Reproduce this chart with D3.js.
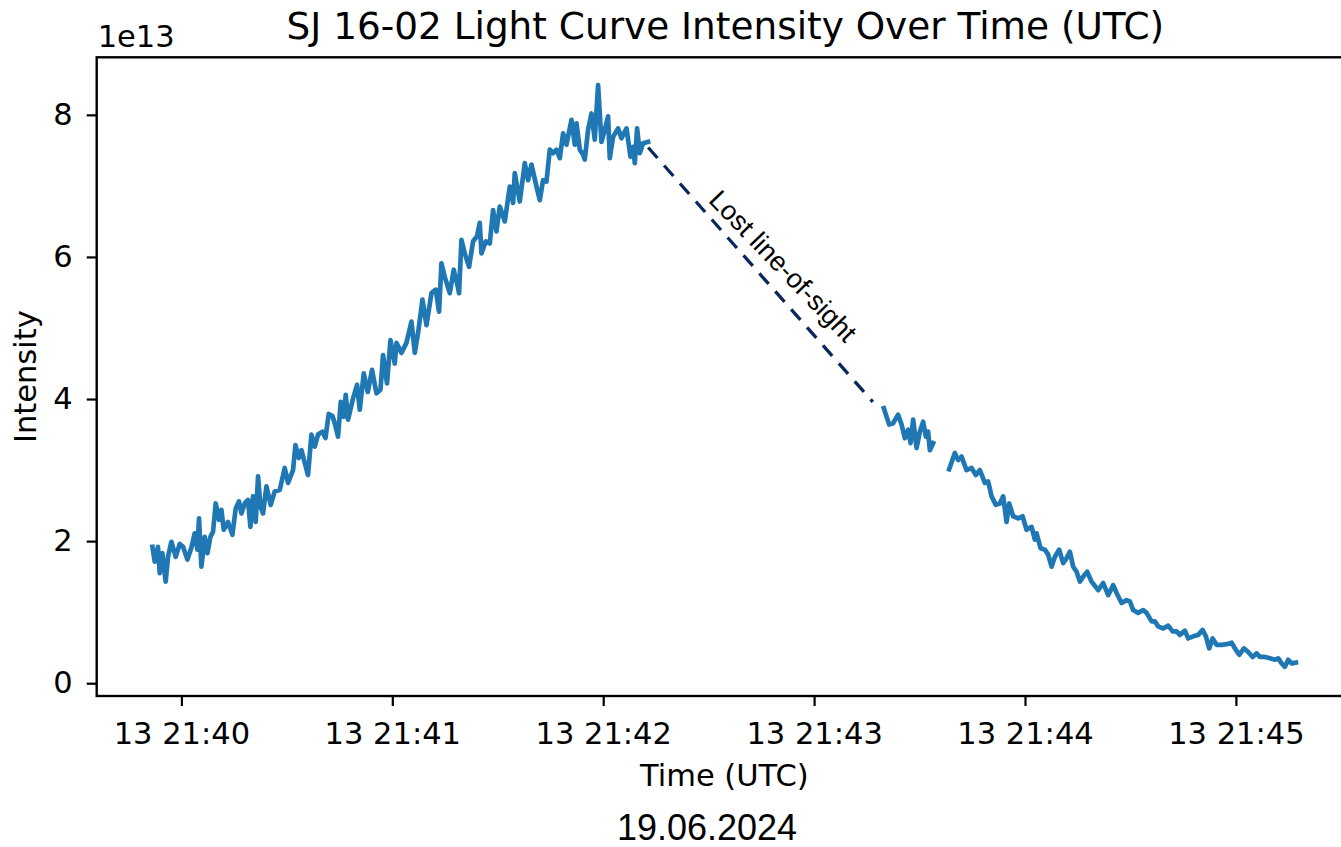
<!DOCTYPE html>
<html>
<head>
<meta charset="utf-8">
<script src="https://cdn.jsdelivr.net/npm/d3@7"></script>
<style>
  body { margin: 0; background: #fff; }
  svg { display: block; }
  .axis text { font-family: "DejaVu Sans", sans-serif; font-size: 30.5px; fill: #000; }
  .axis line { stroke: #000; stroke-width: 2.2px; }
</style>
</head>
<body>
<div id="chart"></div>
<script>
// seconds after 13 21:40:00 UTC, intensity in units of 1e13
var riseSegment = [
  [-8.25, 1.92], [-7.60, 1.71], [-6.66, 1.92], [-6.17, 1.55], [-5.41, 1.83], [-4.47, 1.43],
  [-3.81, 1.78], [-2.85, 1.99], [-1.62, 1.78], [-0.48, 1.96], [0.46, 1.92], [1.71, 1.74],
  [2.85, 1.91], [3.78, 2.11], [4.55, 1.88], [5.01, 2.32], [5.69, 1.64], [6.63, 2.06],
  [7.40, 1.83], [8.25, 2.06], [8.99, 2.13], [9.76, 2.53], [10.70, 2.30], [11.38, 2.44],
  [12.04, 2.16], [13.26, 2.27], [14.51, 2.09], [15.45, 2.46], [16.39, 2.56], [17.07, 2.39],
  [18.01, 2.53], [18.95, 2.58], [19.63, 2.20], [20.37, 2.63], [21.14, 2.27], [21.80, 2.91],
  [22.48, 2.49], [23.22, 2.39], [24.19, 2.77], [25.41, 2.51], [26.55, 2.70], [27.97, 2.72],
  [29.39, 3.03], [30.33, 2.82], [31.76, 3.00], [32.44, 3.35], [33.38, 3.17], [34.15, 3.28],
  [34.89, 3.14], [36.02, 2.93], [36.99, 3.50], [37.93, 3.33], [38.87, 3.50], [40.12, 3.54],
  [40.98, 3.45], [41.91, 3.79], [42.97, 3.76], [43.62, 3.66], [44.56, 3.47], [45.33, 3.96],
  [46.18, 3.75], [46.75, 4.06], [47.41, 3.71], [48.83, 4.01], [49.97, 4.20], [50.74, 3.85],
  [51.87, 4.36], [53.01, 4.10], [54.24, 4.41], [55.49, 4.08], [56.63, 4.13], [57.37, 4.62],
  [58.50, 4.22], [59.47, 4.83], [60.70, 4.50], [61.18, 4.79], [62.60, 4.65], [64.02, 4.79],
  [65.45, 5.09], [66.39, 4.65], [67.33, 4.93], [68.58, 5.40], [69.72, 5.04], [71.14, 5.49],
  [72.36, 5.54], [73.30, 5.23], [73.98, 5.91], [74.92, 5.72], [76.35, 5.49], [77.48, 5.82],
  [78.42, 5.63], [78.99, 5.49], [79.67, 6.24], [80.61, 6.05], [81.84, 5.86], [82.98, 6.22],
  [84.11, 6.29], [84.88, 6.48], [85.37, 6.05], [86.59, 6.22], [87.73, 6.19], [88.67, 6.66],
  [89.63, 6.36], [90.57, 6.71], [92.00, 6.50], [93.42, 6.99], [94.36, 6.76], [94.84, 7.18],
  [96.26, 6.78], [97.69, 7.32], [98.63, 7.08], [99.59, 7.30], [101.02, 6.99], [101.96, 6.80],
  [102.89, 7.08], [103.86, 7.06], [104.80, 7.51], [105.74, 7.46], [106.71, 7.51], [107.65, 7.39],
  [108.59, 7.74], [109.55, 7.58], [110.98, 7.93], [111.91, 7.58], [112.40, 7.88], [113.34, 7.51],
  [114.28, 7.44], [114.76, 7.37], [115.70, 7.79], [116.67, 8.02], [117.60, 7.65], [118.54, 8.42],
  [119.51, 7.62], [120.45, 7.79], [121.39, 7.98], [121.87, 7.39], [122.81, 7.69], [124.23, 7.81],
  [125.20, 7.67], [126.63, 7.81], [127.76, 7.41], [128.50, 7.55], [128.99, 7.32], [129.64, 7.81],
  [130.41, 7.46], [131.35, 7.60], [132.77, 7.62]
];

var shortSegment = [
  [199.84, 3.87], [201.35, 3.64], [202.49, 3.66], [203.91, 3.78], [204.88, 3.64], [205.82, 3.45],
  [206.76, 3.57], [207.44, 3.38], [208.18, 3.71], [209.15, 3.31], [210.08, 3.54], [211.02, 3.68],
  [211.79, 3.47], [212.45, 3.54], [212.93, 3.28], [213.87, 3.38]
];

var fallSegment = [
  [218.42, 3.01], [220.04, 3.24], [220.98, 3.14], [221.95, 3.19], [223.37, 3.00], [224.80, 3.03],
  [226.02, 2.93], [227.16, 3.00], [228.58, 2.82], [229.52, 2.84], [230.49, 2.63], [231.71, 2.51],
  [232.85, 2.53], [233.79, 2.63], [234.75, 2.27], [235.49, 2.53], [236.63, 2.35], [238.06, 2.32],
  [239.31, 2.35], [240.44, 2.16], [241.87, 2.20], [242.81, 2.02], [243.29, 2.11], [244.43, 1.90],
  [245.65, 1.88], [246.59, 1.81], [247.56, 1.64], [248.50, 1.78], [249.72, 1.88], [250.86, 1.69],
  [251.83, 1.76], [252.77, 1.85], [253.71, 1.64], [254.67, 1.57], [255.61, 1.43], [256.55, 1.50],
  [257.69, 1.57], [258.94, 1.43], [260.82, 1.31], [262.24, 1.41], [263.67, 1.24], [265.09, 1.38],
  [266.06, 1.27], [267.48, 1.13], [268.90, 1.17], [269.84, 1.15], [270.78, 1.03], [272.20, 0.99],
  [273.63, 1.03], [274.59, 0.99], [276.02, 0.87], [276.95, 0.87], [277.89, 0.80], [279.32, 0.77],
  [280.74, 0.81], [281.99, 0.73], [283.13, 0.73], [284.07, 0.68], [285.49, 0.74], [286.43, 0.63],
  [287.85, 0.66], [289.28, 0.68], [290.53, 0.75], [291.47, 0.66], [292.40, 0.49], [293.37, 0.63],
  [294.51, 0.54], [295.93, 0.54], [297.36, 0.55], [298.78, 0.57], [299.72, 0.49], [300.95, 0.40],
  [302.28, 0.49], [303.51, 0.44], [304.75, 0.37], [305.89, 0.42], [306.83, 0.37], [308.26, 0.37],
  [309.68, 0.35], [311.10, 0.33], [312.04, 0.35], [313.01, 0.28], [313.95, 0.23], [314.89, 0.33],
  [315.85, 0.28], [317.08, 0.29]
];

// dashed bridge over the lost line-of-sight gap
var gapLine = [[132.8, 7.54], [196.7, 3.96]];
var gapLabel = { t: 171.1, v: 5.87, text: 'Lost line-of-sight', angle: 46 };

var xTickMinutes = [40, 41, 42, 43, 44, 45];
var yTickValues = [0, 2, 4, 6, 8];
var xDomainSec = [-24.1, 333.6];
var yDomain = [-0.18, 8.81];

function buildChart(containerId) {
    var width = 1341;
    var height = 847;

    var plot = { left: 96.7, right: 1354, top: 57.3, bottom: 696 };

    var baseTime = Date.UTC(2024, 5, 13, 21, 40, 0);
    var toDate = function (s) { return new Date(baseTime + s * 1000); };

    var svg = d3.select(containerId)
        .append('svg')
        .attr('width', width)
        .attr('height', height);

    var x = d3.scaleUtc()
        .domain(xDomainSec.map(toDate))
        .range([plot.left, plot.right]);

    var y = d3.scaleLinear()
        .domain(yDomain)
        .range([plot.bottom, plot.top]);

    var line = d3.line()
        .x(function (d) { return x(toDate(d[0])); })
        .y(function (d) { return y(d[1]); });

    // axes
    var xAxis = d3.axisBottom(x)
        .tickValues(xTickMinutes.map(function (m) { return new Date(Date.UTC(2024, 5, 13, 21, m, 0)); }))
        .tickFormat(d3.utcFormat('%d %H:%M'))
        .tickSize(10)
        .tickPadding(16);

    var yAxis = d3.axisLeft(y)
        .tickValues(yTickValues)
        .tickFormat(d3.format('d'))
        .tickSize(10)
        .tickPadding(14);

    svg.append('g')
        .attr('class', 'axis')
        .attr('transform', 'translate(0,' + plot.bottom + ')')
        .call(xAxis)
        .select('.domain').remove();

    svg.append('g')
        .attr('class', 'axis')
        .attr('transform', 'translate(' + plot.left + ',0)')
        .call(yAxis)
        .select('.domain').remove();

    // data lines
    svg.append('clipPath').attr('id', 'plot-clip')
        .append('rect')
        .attr('x', plot.left)
        .attr('y', plot.top)
        .attr('width', plot.right - plot.left)
        .attr('height', plot.bottom - plot.top);

    var g = svg.append('g').attr('clip-path', 'url(#plot-clip)');

    [riseSegment, shortSegment, fallSegment].forEach(function (seg) {
        g.append('path')
            .datum(seg)
            .attr('d', line)
            .style('fill', 'none')
            .style('stroke', '#1f77b4')
            .style('stroke-width', 4.7)
            .style('stroke-linejoin', 'round')
            .style('stroke-linecap', 'square');
    });

    g.append('path')
        .datum(gapLine)
        .attr('d', line)
        .style('fill', 'none')
        .style('stroke', '#0a2859')
        .style('stroke-width', 3.3)
        .style('stroke-dasharray', '14,10');

    var lx = x(toDate(gapLabel.t));
    var ly = y(gapLabel.v);
    svg.append('text')
        .attr('transform', 'translate(' + lx + ',' + ly + ') rotate(' + gapLabel.angle + ')')
        .attr('text-anchor', 'middle')
        .attr('dominant-baseline', 'central')
        .style('font-family', '"Liberation Sans", Arial, sans-serif')
        .style('font-size', '27px')
        .text(gapLabel.text);

    // frame
    svg.append('rect')
        .attr('x', plot.left)
        .attr('y', plot.top)
        .attr('width', plot.right - plot.left)
        .attr('height', plot.bottom - plot.top)
        .style('fill', 'none')
        .style('stroke', '#000')
        .style('stroke-width', 2.4);

    // labels
    svg.append('text')
        .attr('x', (plot.left + plot.right) / 2)
        .attr('y', 38.5)
        .attr('text-anchor', 'middle')
        .style('font-family', '"DejaVu Sans", sans-serif')
        .style('font-size', '37.4px')
        .text('SJ 16-02 Light Curve Intensity Over Time (UTC)');

    svg.append('text')
        .attr('x', plot.left + 1)
        .attr('y', 46.7)
        .style('font-family', '"DejaVu Sans", sans-serif')
        .style('font-size', '30.5px')
        .text('1e13');

    svg.append('text')
        .attr('transform', 'translate(36,' + (plot.top + plot.bottom) / 2 + ') rotate(-90)')
        .attr('text-anchor', 'middle')
        .style('font-family', '"DejaVu Sans", sans-serif')
        .style('font-size', '30.5px')
        .text('Intensity');

    svg.append('text')
        .attr('x', (plot.left + plot.right) / 2 - 1)
        .attr('y', 786)
        .attr('text-anchor', 'middle')
        .style('font-family', '"DejaVu Sans", sans-serif')
        .style('font-size', '30.5px')
        .text('Time (UTC)');

    svg.append('text')
        .attr('x', 707)
        .attr('y', 840)
        .attr('text-anchor', 'middle')
        .style('font-family', '"Liberation Sans", Arial, sans-serif')
        .style('font-size', '36px')
        .text('19.06.2024');
}

buildChart('#chart');
</script>
</body>
</html>
